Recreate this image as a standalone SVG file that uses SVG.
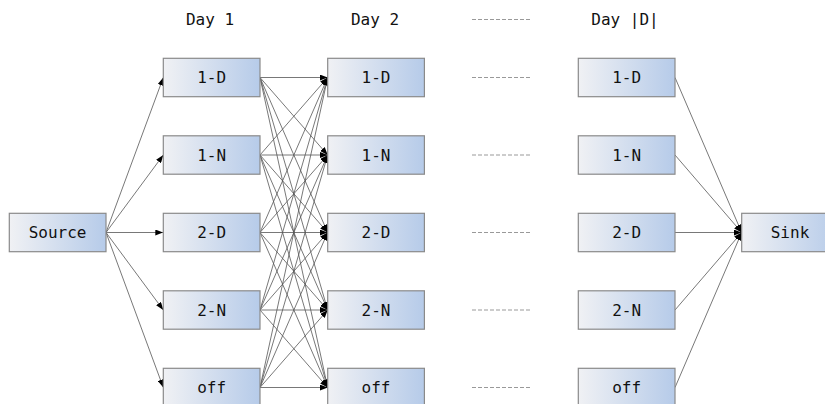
<svg xmlns="http://www.w3.org/2000/svg" width="825" height="404" viewBox="0 0 825 404">
<defs>
<linearGradient id="g" x1="0" y1="0" x2="1" y2="0">
<stop offset="0" stop-color="#f0f1f4"/>
<stop offset="1" stop-color="#b6cbe9"/>
</linearGradient>
<marker id="a" viewBox="0 0 8 6" refX="8" refY="3" markerWidth="8" markerHeight="6" markerUnits="userSpaceOnUse" orient="auto">
<path d="M0,0 L8,3 L0,6 Z" fill="#000"/>
</marker>
</defs>
<style>
.b{fill:url(#g);stroke:#8a8a8a;stroke-width:1.2}
.t{font-family:"DejaVu Sans Mono","Liberation Mono",monospace;font-size:16px;fill:#111;text-anchor:middle}
.e{stroke:#555;stroke-width:0.8;fill:none;marker-end:url(#a)}
.d{stroke:#999;stroke-width:1;stroke-dasharray:4 2;fill:none}
</style>
<g id="labels">
<text class="t" x="210" y="25">Day 1</text>
<text class="t" x="375" y="25">Day 2</text>
<text class="t" x="625" y="25">Day |D|</text>
</g>
<g id="dashes">
<line class="d" x1="472" y1="19.5" x2="530" y2="19.5"/>
<line class="d" x1="472" y1="77.5" x2="530" y2="77.5"/>
<line class="d" x1="472" y1="155" x2="530" y2="155"/>
<line class="d" x1="472" y1="232.5" x2="530" y2="232.5"/>
<line class="d" x1="472" y1="310" x2="530" y2="310"/>
<line class="d" x1="472" y1="387.5" x2="530" y2="387.5"/>
</g>
<g id="connectors">
<line class="e" x1="106" y1="232.5" x2="163.3" y2="77.5"/>
<line class="e" x1="106" y1="232.5" x2="163.3" y2="155"/>
<line class="e" x1="106" y1="232.5" x2="163.3" y2="232.5"/>
<line class="e" x1="106" y1="232.5" x2="163.3" y2="310"/>
<line class="e" x1="106" y1="232.5" x2="163.3" y2="387.5"/>
<line class="e" x1="260" y1="77.5" x2="327.7" y2="77.5"/>
<line class="e" x1="260" y1="77.5" x2="327.7" y2="155"/>
<line class="e" x1="260" y1="77.5" x2="327.7" y2="232.5"/>
<line class="e" x1="260" y1="77.5" x2="327.7" y2="310"/>
<line class="e" x1="260" y1="77.5" x2="327.7" y2="387.5"/>
<line class="e" x1="260" y1="155" x2="327.7" y2="77.5"/>
<line class="e" x1="260" y1="155" x2="327.7" y2="155"/>
<line class="e" x1="260" y1="155" x2="327.7" y2="232.5"/>
<line class="e" x1="260" y1="155" x2="327.7" y2="310"/>
<line class="e" x1="260" y1="155" x2="327.7" y2="387.5"/>
<line class="e" x1="260" y1="232.5" x2="327.7" y2="77.5"/>
<line class="e" x1="260" y1="232.5" x2="327.7" y2="155"/>
<line class="e" x1="260" y1="232.5" x2="327.7" y2="232.5"/>
<line class="e" x1="260" y1="232.5" x2="327.7" y2="310"/>
<line class="e" x1="260" y1="232.5" x2="327.7" y2="387.5"/>
<line class="e" x1="260" y1="310" x2="327.7" y2="77.5"/>
<line class="e" x1="260" y1="310" x2="327.7" y2="155"/>
<line class="e" x1="260" y1="310" x2="327.7" y2="232.5"/>
<line class="e" x1="260" y1="310" x2="327.7" y2="310"/>
<line class="e" x1="260" y1="310" x2="327.7" y2="387.5"/>
<line class="e" x1="260" y1="387.5" x2="327.7" y2="77.5"/>
<line class="e" x1="260" y1="387.5" x2="327.7" y2="155"/>
<line class="e" x1="260" y1="387.5" x2="327.7" y2="232.5"/>
<line class="e" x1="260" y1="387.5" x2="327.7" y2="310"/>
<line class="e" x1="260" y1="387.5" x2="327.7" y2="387.5"/>
<line class="e" x1="675" y1="77.5" x2="741.7" y2="232.5"/>
<line class="e" x1="675" y1="155" x2="741.7" y2="232.5"/>
<line class="e" x1="675" y1="232.5" x2="741.7" y2="232.5"/>
<line class="e" x1="675" y1="310" x2="741.7" y2="232.5"/>
<line class="e" x1="675" y1="387.5" x2="741.7" y2="232.5"/>
</g>
<g id="source"><rect class="b" x="9.3" y="213.3" width="96.7" height="38.4"/><text class="t" x="57.6" y="238">Source</text></g>
<g id="d1-1D"><rect class="b" x="163.3" y="58.3" width="96.7" height="38.4"/><text class="t" x="211.6" y="83">1-D</text></g>
<g id="d1-1N"><rect class="b" x="163.3" y="135.8" width="96.7" height="38.4"/><text class="t" x="211.6" y="160.5">1-N</text></g>
<g id="d1-2D"><rect class="b" x="163.3" y="213.3" width="96.7" height="38.4"/><text class="t" x="211.6" y="238">2-D</text></g>
<g id="d1-2N"><rect class="b" x="163.3" y="290.8" width="96.7" height="38.4"/><text class="t" x="211.6" y="315.5">2-N</text></g>
<g id="d1-off"><rect class="b" x="163.3" y="368.3" width="96.7" height="38.4"/><text class="t" x="211.6" y="393">off</text></g>
<g id="d2-1D"><rect class="b" x="327.7" y="58.3" width="96.7" height="38.4"/><text class="t" x="376" y="83">1-D</text></g>
<g id="d2-1N"><rect class="b" x="327.7" y="135.8" width="96.7" height="38.4"/><text class="t" x="376" y="160.5">1-N</text></g>
<g id="d2-2D"><rect class="b" x="327.7" y="213.3" width="96.7" height="38.4"/><text class="t" x="376" y="238">2-D</text></g>
<g id="d2-2N"><rect class="b" x="327.7" y="290.8" width="96.7" height="38.4"/><text class="t" x="376" y="315.5">2-N</text></g>
<g id="d2-off"><rect class="b" x="327.7" y="368.3" width="96.7" height="38.4"/><text class="t" x="376" y="393">off</text></g>
<g id="dD-1D"><rect class="b" x="578.3" y="58.3" width="96.7" height="38.4"/><text class="t" x="626.6" y="83">1-D</text></g>
<g id="dD-1N"><rect class="b" x="578.3" y="135.8" width="96.7" height="38.4"/><text class="t" x="626.6" y="160.5">1-N</text></g>
<g id="dD-2D"><rect class="b" x="578.3" y="213.3" width="96.7" height="38.4"/><text class="t" x="626.6" y="238">2-D</text></g>
<g id="dD-2N"><rect class="b" x="578.3" y="290.8" width="96.7" height="38.4"/><text class="t" x="626.6" y="315.5">2-N</text></g>
<g id="dD-off"><rect class="b" x="578.3" y="368.3" width="96.7" height="38.4"/><text class="t" x="626.6" y="393">off</text></g>
<g id="sink"><rect class="b" x="741.7" y="213.3" width="96.7" height="38.4"/><text class="t" x="790" y="238">Sink</text></g>
</svg>
